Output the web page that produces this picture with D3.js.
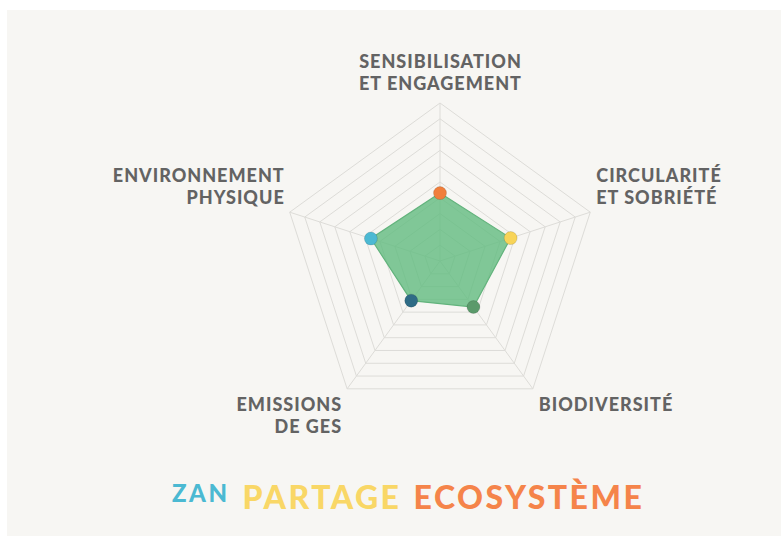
<!DOCTYPE html>
<html>
<head>
<meta charset="utf-8">
<script src="https://cdnjs.cloudflare.com/ajax/libs/d3/7.8.5/d3.min.js"></script>
<style>
  body { margin: 0; background: #fff; }
  .axis-label { font-family: Lato, sans-serif; font-weight: 900; font-size: 18px; letter-spacing: 1px; fill: #636363; }
  .title { font-family: Lato, sans-serif; font-weight: 900; letter-spacing: 2.5px; }
</style>
</head>
<body>
<div id="chart"></div>
<script>
// radar data
var axes = [["SENSIBILISATION", "ET ENGAGEMENT"], ["CIRCULARITÉ", "ET SOBRIÉTÉ"], ["BIODIVERSITÉ"], ["EMISSIONS", "DE GES"], ["ENVIRONNEMENT", "PHYSIQUE"]];
var values = [43, 47, 36, 31, 46];
var dotColors = ["#f07f3c", "#f8d458", "#5b9a6b", "#2f6c86", "#4cb9d3"];
var levels = d3.range(1, 11).map(function(d) { return d * 10; }); // 10 rings
var titleWords = ["ZAN", "PARTAGE", "ECOSYSTÈME"];
var titleColors = ["#4bb9d2", "#f9d766", "#f5844a"];

var w = 781, h = 536,
    cx = 440, cy = 261,
    R = 158;

var svg = d3.select("#chart").append("svg")
    .attr("width", w)
    .attr("height", h);

svg.append("rect")
    .attr("x", 7).attr("y", 10)
    .attr("width", w - 7).attr("height", h - 10)
    .attr("fill", "#f7f6f3");

var rScale = d3.scaleLinear().domain([0, 100]).range([0, R]);
var angle = d3.scaleLinear().domain([0, axes.length]).range([0, 2 * Math.PI]);

function pt(i, v) {
    var a = angle(i);
    return [cx + rScale(v) * Math.sin(a), cy - rScale(v) * Math.cos(a)];
}

var grid = svg.append("g");
var ringLine = d3.line().curve(d3.curveLinearClosed);
levels.forEach(function(lv) {
    grid.append("path")
        .attr("d", ringLine(axes.map(function(a, i) { return pt(i, lv); })))
        .attr("fill", "none")
        .attr("stroke", "#dddcd8")
        .attr("stroke-width", 1);
});
axes.forEach(function(a, i) {
    var p = pt(i, 100);
    grid.append("line")
        .attr("x1", cx).attr("y1", cy)
        .attr("x2", p[0]).attr("y2", p[1])
        .attr("stroke", "#dddcd8")
        .attr("stroke-width", 1);
});

// data area
svg.append("path")
    .attr("d", ringLine(values.map(function(v, i) { return pt(i, v); })))
    .attr("fill", "#62bc80")
    .attr("fill-opacity", 0.8)
    .attr("stroke", "#62b37c")
    .attr("stroke-width", 1.2);

svg.append("g").selectAll("circle")
    .data(values)
    .enter()
    .append("circle")
    .attr("cx", function(d, i) { return pt(i, d)[0]; })
    .attr("cy", function(d, i) { return pt(i, d)[1]; })
    .attr("r", 6.5)
    .attr("fill", function(d, i) { return dotColors[i]; })
    .attr("stroke", "rgba(0,0,0,0.12)")
    .attr("stroke-width", 1);

// labels
var lh = 22;
axes.forEach(function(lines, i) {
    var p = pt(i, 100),
        s = Math.sin(angle(i)),
        c = Math.cos(angle(i)),
        anchor = Math.abs(s) < 0.1 ? "middle" : (s > 0 ? "start" : "end"),
        x = p[0] + (anchor == "middle" ? 0 : (s > 0 ? 6 : -6)),
        y;
    if (anchor == "middle") {
        y = p[1] - 13 - (lines.length - 1) * lh;
    } else if (c > 0) {
        y = p[1] - 30;
    } else {
        y = p[1] + 22;
    }
    // letter-spacing leaves a trailing gap, shift end-anchored text back
    if (anchor == "end") x += 1;
    if (anchor == "middle") x += 0.5;
    var t = svg.append("text")
        .attr("class", "axis-label")
        .attr("text-anchor", anchor);
    lines.forEach(function(l, j) {
        t.append("tspan").attr("x", x).attr("y", y + j * lh).text(l);
    });
});

// title
var title = svg.append("text")
    .attr("class", "title")
    .attr("x", 172)
    .attr("y", 509)
    .attr("text-anchor", "start");
title.append("tspan").attr("font-size", 24).attr("dy", -7).attr("fill", titleColors[0]).text(titleWords[0]);
title.append("tspan").attr("font-size", 32).attr("dx", 13).attr("dy", 7).attr("fill", titleColors[1]).text(titleWords[1]);
title.append("tspan").attr("font-size", 32).attr("dx", 12).attr("fill", titleColors[2]).text(titleWords[2]);
</script>
</body>
</html>
